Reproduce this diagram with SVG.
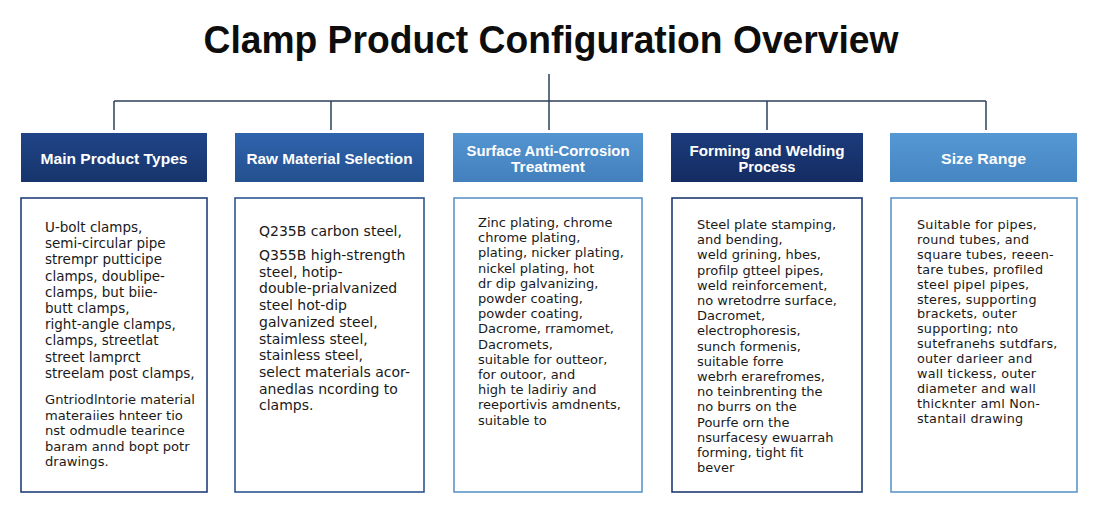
<svg xmlns="http://www.w3.org/2000/svg" width="1100" height="526" viewBox="0 0 1100 526">
<style>
.title{font-family:"Liberation Sans",Arial,sans-serif;font-weight:bold;font-size:38px;fill:#0d0d0d}
.hd{font-family:"Liberation Sans",Arial,sans-serif;font-weight:bold;font-size:14.3px;fill:#ffffff}
.body{font-family:"DejaVu Sans","Liberation Sans",sans-serif;fill:#1a1a1a}
.conn{stroke:#2d3f5c;stroke-width:1.5;fill:none}
.box{fill:#ffffff;stroke-width:1.6}
</style>
<defs>
<linearGradient id="g1" x1="0" y1="0" x2="0" y2="1"><stop offset="0" stop-color="#1f4487"/><stop offset="1" stop-color="#17356c"/></linearGradient>
<linearGradient id="g2" x1="0" y1="0" x2="0" y2="1"><stop offset="0" stop-color="#2e63ad"/><stop offset="1" stop-color="#24518f"/></linearGradient>
<linearGradient id="g3" x1="0" y1="0" x2="0" y2="1"><stop offset="0" stop-color="#5395d1"/><stop offset="1" stop-color="#4380bd"/></linearGradient>
<linearGradient id="g4" x1="0" y1="0" x2="0" y2="1"><stop offset="0" stop-color="#1c3b7c"/><stop offset="1" stop-color="#142c62"/></linearGradient>
<linearGradient id="g5" x1="0" y1="0" x2="0" y2="1"><stop offset="0" stop-color="#5598d3"/><stop offset="1" stop-color="#4686c2"/></linearGradient>
</defs>
<rect width="1100" height="526" fill="#ffffff"/>
<text class="title" x="551" y="53" text-anchor="middle" textLength="695" lengthAdjust="spacingAndGlyphs">Clamp Product Configuration Overview</text>

<g id="connectors">
<line class="conn" x1="549" y1="74" x2="549" y2="101"/>
<line class="conn" x1="114" y1="101" x2="986" y2="101"/>
<line class="conn" x1="114" y1="101" x2="114" y2="130"/>
<line class="conn" x1="331" y1="101" x2="331" y2="130"/>
<line class="conn" x1="549" y1="101" x2="549" y2="130"/>
<line class="conn" x1="767" y1="101" x2="767" y2="130"/>
<line class="conn" x1="986" y1="101" x2="986" y2="130"/>
</g>

<g id="node-main-product-types">
<rect x="21" y="133" width="186" height="49" fill="url(#g1)"/>
<text class="hd" x="114" y="163.5" text-anchor="middle" textLength="147" lengthAdjust="spacingAndGlyphs">Main Product Types</text>
<rect class="box" x="21" y="198" width="186" height="294" stroke="#22407a"/>
<text class="body" font-size="13.5">
<tspan x="45" y="232">U-bolt clamps,</tspan>
<tspan x="45" y="248.2">semi-circular pipe</tspan>
<tspan x="45" y="264.4">strempr putticipe</tspan>
<tspan x="45" y="280.6">clamps, doublipe-</tspan>
<tspan x="45" y="296.8">clamps, but biie-</tspan>
<tspan x="45" y="313">butt clamps,</tspan>
<tspan x="45" y="329.2">right-angle clamps,</tspan>
<tspan x="45" y="345.4">clamps, streetlat</tspan>
<tspan x="45" y="361.6">street lamprct</tspan>
<tspan x="45" y="377.8">streelam post clamps,</tspan>
</text>
<text class="body" font-size="13.1">
<tspan x="45" y="404">Gntriodlntorie material</tspan>
<tspan x="45" y="419.5">materaiies hnteer tio</tspan>
<tspan x="45" y="435">nst odmudle tearince</tspan>
<tspan x="45" y="450.5">baram annd bopt potr</tspan>
<tspan x="45" y="466">drawings.</tspan>
</text>
</g>

<g id="node-raw-material-selection">
<rect x="235" y="133" width="189" height="49" fill="url(#g2)"/>
<text class="hd" x="329.5" y="163.5" text-anchor="middle" textLength="166" lengthAdjust="spacingAndGlyphs">Raw Material Selection</text>
<rect class="box" x="235" y="198" width="189" height="294" stroke="#2e5590"/>
<text class="body" font-size="14">
<tspan x="259" y="236">Q235B carbon steel,</tspan>
<tspan x="259" y="260">Q355B high-strength</tspan>
<tspan x="259" y="276.7">steel, hotip-</tspan>
<tspan x="259" y="293.4">double-prialvanized</tspan>
<tspan x="259" y="310.1">steel hot-dip</tspan>
<tspan x="259" y="326.8">galvanized steel,</tspan>
<tspan x="259" y="343.5">staimless steel,</tspan>
<tspan x="259" y="360.2">stainless steel,</tspan>
<tspan x="259" y="376.9">select materials acor-</tspan>
<tspan x="259" y="393.6">anedlas ncording to</tspan>
<tspan x="259" y="410.3">clamps.</tspan>
</text>
</g>

<g id="node-surface-anti-corrosion">
<rect x="453" y="133" width="190" height="49" fill="url(#g3)"/>
<text class="hd" x="548" y="156" text-anchor="middle" textLength="163" lengthAdjust="spacingAndGlyphs">Surface Anti-Corrosion</text>
<text class="hd" x="548" y="172.2" text-anchor="middle" textLength="74" lengthAdjust="spacingAndGlyphs">Treatment</text>
<rect class="box" x="454" y="198" width="188" height="294" stroke="#5c95c8"/>
<text class="body" font-size="13">
<tspan x="478" y="227">Zinc plating, chrome</tspan>
<tspan x="478" y="242.2">chrome plating,</tspan>
<tspan x="478" y="257.4">plating, nicker plating,</tspan>
<tspan x="478" y="272.6">nickel plating, hot</tspan>
<tspan x="478" y="287.8">dr dip galvanizing,</tspan>
<tspan x="478" y="303">powder coating,</tspan>
<tspan x="478" y="318.2">powder coating,</tspan>
<tspan x="478" y="333.4">Dacrome, rramomet,</tspan>
<tspan x="478" y="348.6">Dacromets,</tspan>
<tspan x="478" y="363.8">suitable for outteor,</tspan>
<tspan x="478" y="379">for outoor, and</tspan>
<tspan x="478" y="394.2">high te ladiriy and</tspan>
<tspan x="478" y="409.4">reeportivis amdnents,</tspan>
<tspan x="478" y="424.6">suitable to</tspan>
</text>
</g>

<g id="node-forming-welding">
<rect x="671" y="133" width="192" height="49" fill="url(#g4)"/>
<text class="hd" x="767" y="156" text-anchor="middle" textLength="155" lengthAdjust="spacingAndGlyphs">Forming and Welding</text>
<text class="hd" x="767" y="172.2" text-anchor="middle" textLength="57" lengthAdjust="spacingAndGlyphs">Process</text>
<rect class="box" x="672" y="198" width="190" height="294" stroke="#1e3a72"/>
<text class="body" font-size="13">
<tspan x="697" y="229">Steel plate stamping,</tspan>
<tspan x="697" y="244.2">and bending,</tspan>
<tspan x="697" y="259.4">weld grining, hbes,</tspan>
<tspan x="697" y="274.6">profilp gtteel pipes,</tspan>
<tspan x="697" y="289.8">weld reinforcement,</tspan>
<tspan x="697" y="305">no wretodrre surface,</tspan>
<tspan x="697" y="320.2">Dacromet,</tspan>
<tspan x="697" y="335.4">electrophoresis,</tspan>
<tspan x="697" y="350.6">sunch formenis,</tspan>
<tspan x="697" y="365.8">suitable forre</tspan>
<tspan x="697" y="381">webrh erarefromes,</tspan>
<tspan x="697" y="396.2">no teinbrenting the</tspan>
<tspan x="697" y="411.4">no burrs on the</tspan>
<tspan x="697" y="426.6">Pourfe orn the</tspan>
<tspan x="697" y="441.8">nsurfacesy ewuarrah</tspan>
<tspan x="697" y="457">forming, tight fit</tspan>
<tspan x="697" y="472.2">bever</tspan>
</text>
</g>

<g id="node-size-range">
<rect x="890" y="133" width="187" height="49" fill="url(#g5)"/>
<text class="hd" x="983.5" y="163.5" text-anchor="middle" textLength="85" lengthAdjust="spacingAndGlyphs">Size Range</text>
<rect class="box" x="891" y="198" width="186" height="294" stroke="#5e97ca"/>
<text class="body" font-size="12.8" letter-spacing="0.2">
<tspan x="917" y="229">Suitable for pipes,</tspan>
<tspan x="917" y="243.9">round tubes, and</tspan>
<tspan x="917" y="258.8">square tubes, reeen-</tspan>
<tspan x="917" y="273.7">tare tubes, profiled</tspan>
<tspan x="917" y="288.6">steel pipel pipes,</tspan>
<tspan x="917" y="303.5">steres, supporting</tspan>
<tspan x="917" y="318.4">brackets, outer</tspan>
<tspan x="917" y="333.3">supporting; nto</tspan>
<tspan x="917" y="348.2">sutefranehs sutdfars,</tspan>
<tspan x="917" y="363.1">outer darieer and</tspan>
<tspan x="917" y="378">wall tickess, outer</tspan>
<tspan x="917" y="392.9">diameter and wall</tspan>
<tspan x="917" y="407.8">thicknter aml Non-</tspan>
<tspan x="917" y="422.7">stantail drawing</tspan>
</text>
</g>
</svg>
